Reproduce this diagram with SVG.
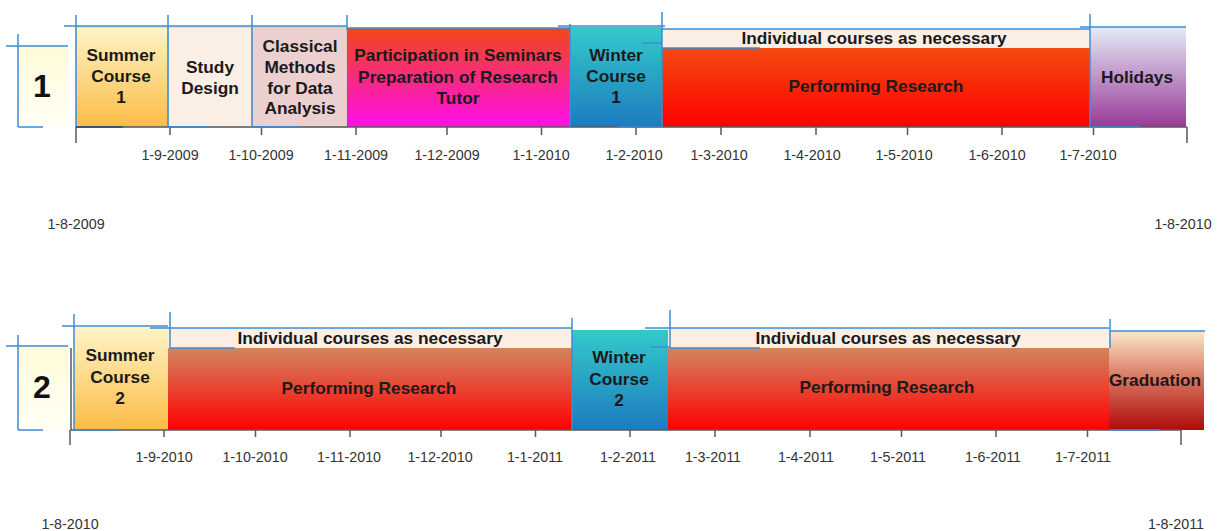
<svg xmlns="http://www.w3.org/2000/svg" width="1217" height="531" viewBox="0 0 1217 531">
<defs>
<linearGradient id="gNum" x1="0" y1="0" x2="0" y2="1"><stop offset="0" stop-color="#fffbd8"/><stop offset="1" stop-color="#fffff6"/></linearGradient>
<linearGradient id="gSummer" x1="0" y1="0" x2="0" y2="1"><stop offset="0" stop-color="#fff4c6"/><stop offset="1" stop-color="#fcbc46"/></linearGradient>
<linearGradient id="gPart" x1="0" y1="0" x2="0" y2="1"><stop offset="0" stop-color="#f14716"/><stop offset="1" stop-color="#ff0eea"/></linearGradient>
<linearGradient id="gWinter" x1="0" y1="0" x2="0" y2="1"><stop offset="0" stop-color="#33caca"/><stop offset="1" stop-color="#1d7bc0"/></linearGradient>
<linearGradient id="gPerf1" x1="0" y1="0" x2="0" y2="1"><stop offset="0" stop-color="#f34a10"/><stop offset="1" stop-color="#ff0000"/></linearGradient>
<linearGradient id="gPerf2" x1="0" y1="0" x2="0" y2="1"><stop offset="0" stop-color="#d28560"/><stop offset="1" stop-color="#ff0000"/></linearGradient>
<linearGradient id="gHol" x1="0" y1="0" x2="0" y2="1"><stop offset="0" stop-color="#e4ecf8"/><stop offset="1" stop-color="#983a96"/></linearGradient>
<linearGradient id="gGrad" x1="0" y1="0" x2="0" y2="1"><stop offset="0" stop-color="#fbeac8"/><stop offset="0.5" stop-color="#d6705c"/><stop offset="1" stop-color="#ae0b0b"/></linearGradient>
</defs>
<style>
.lbl{font-family:"Liberation Sans",Arial,sans-serif;font-weight:bold;font-size:17.3px;fill:#1a1a1a;text-anchor:middle;dominant-baseline:central}
.num{font-family:"Liberation Sans",Arial,sans-serif;font-weight:bold;font-size:32px;fill:#111;text-anchor:middle;dominant-baseline:central}
.tick{font-family:"Liberation Sans",Arial,sans-serif;font-size:14.3px;fill:#333;text-anchor:middle}
.ax{stroke:#5a5a5a;stroke-width:1.5;fill:none}
.bl{stroke:#3b8fd3;stroke-width:1.5;fill:none}
.box{stroke:#c8c0c0;stroke-width:0.8}
</style>

<!-- Row 1 -->
<g id="num1"><rect x="18" y="46" width="50" height="81" fill="url(#gNum)"/><text class="num" x="42" y="86">1</text></g>
<g id="summer1"><rect class="box" x="76" y="27" width="92" height="100" fill="url(#gSummer)"/><text class="lbl" x="121" y="55">Summer</text><text class="lbl" x="121" y="76">Course</text><text class="lbl" x="121" y="97">1</text></g>
<g id="study1"><rect class="box" x="168" y="27" width="84" height="100" fill="#fbeee4"/><text class="lbl" x="210" y="67">Study</text><text class="lbl" x="210" y="88">Design</text></g>
<g id="classical1"><rect class="box" x="252" y="27" width="95" height="100" fill="#ecd0d0"/><text class="lbl" x="300" y="46">Classical</text><text class="lbl" x="300" y="67">Methods</text><text class="lbl" x="300" y="88">for Data</text><text class="lbl" x="300" y="108">Analysis</text></g>
<g id="participation1"><rect x="347" y="28" width="223" height="99" fill="url(#gPart)"/><text class="lbl" x="458" y="55">Participation in Seminars</text><text class="lbl" x="458" y="77">Preparation of Research</text><text class="lbl" x="458" y="98">Tutor</text></g>
<g id="winter1"><rect x="570" y="27" width="92" height="100" fill="url(#gWinter)"/><text class="lbl" x="616" y="55">Winter</text><text class="lbl" x="616" y="76">Course</text><text class="lbl" x="616" y="97">1</text></g>
<g id="individual1"><rect x="662" y="29" width="428" height="19" fill="#fbeee4"/><text class="lbl" x="874" y="38">Individual courses as necessary</text></g>
<g id="research1"><rect x="662" y="48" width="428" height="79" fill="url(#gPerf1)"/><text class="lbl" x="876" y="86">Performing Research</text></g>
<g id="holidays1"><rect x="1090" y="27" width="96" height="100" fill="url(#gHol)"/><text class="lbl" x="1137" y="77">Holidays</text></g>

<!-- Row 2 -->
<g id="num2"><rect x="18" y="346" width="50" height="84" fill="url(#gNum)"/><text class="num" x="42" y="387">2</text></g>
<g id="summer2"><rect x="74" y="327" width="94" height="103" fill="url(#gSummer)"/><text class="lbl" x="120" y="355">Summer</text><text class="lbl" x="120" y="377">Course</text><text class="lbl" x="120" y="398">2</text></g>
<g id="individual2a"><rect x="168" y="328" width="404" height="20" fill="#fbeee4"/><text class="lbl" x="370" y="338">Individual courses as necessary</text></g>
<g id="research2a"><rect x="168" y="348" width="404" height="82" fill="url(#gPerf2)"/><text class="lbl" x="369" y="388">Performing Research</text></g>
<g id="winter2"><rect x="572" y="330" width="96" height="100" fill="url(#gWinter)"/><text class="lbl" x="619" y="357">Winter</text><text class="lbl" x="619" y="379">Course</text><text class="lbl" x="619" y="400">2</text></g>
<g id="individual2b"><rect x="668" y="328" width="441" height="20" fill="#fbeee4"/><text class="lbl" x="888" y="338">Individual courses as necessary</text></g>
<g id="research2b"><rect x="668" y="348" width="441" height="82" fill="url(#gPerf2)"/><text class="lbl" x="887" y="387">Performing Research</text></g>
<g id="graduation2"><rect x="1109" y="331" width="95" height="99" fill="url(#gGrad)"/><text class="lbl" x="1155" y="380">Graduation</text></g>

<!-- connectors: axes and guide lines -->
<g id="connectors">
<g id="axis1">
<path class="ax" d="M76 127H1187M76 127V143M1187 127V143M170 127V135M261.5 127V135M356 127V135M447 127V135M541.5 127V135M636 127V135M721 127V135M816 127V135M907.5 127V135M1002 127V135M1093.5 127V135"/>
</g>
<g id="axis2">
<path class="ax" d="M71 348V430H1181M70 430V445M1181 430V445M164 430V437M255.5 430V437M350 430V437M441 430V437M535.5 430V437M630 430V437M715 430V437M810 430V437M901.5 430V437M996 430V437M1087.5 430V437"/>
</g>
<g id="guides1">
<path class="bl" d="M6 46H68M18 34V127M18 127H43M76 15V127M64 26H347M168 15V127M252 15V127M347 15V30M168 127H211M252 127H300M347 28H570M570 24V127M558 26H665M662 12V127M642 43H662M618 127H662M662 29H1090M662 48H760M1090 14V127M1080 27H1186M1092 127H1140"/>
<path d="M76 127H123" stroke="#1f4e79" stroke-width="1.5"/>
</g>
<g id="guides2">
<path class="bl" d="M6 346H68M18 335V430M18 430H43M74 314V430M62 326H168M170 312V348M150 328H572M170 348H235M74 430H120M572 318V430M645 328H670M670 310V348M650 347H670M670 328H1109M670 348H760M1110 319V348M1110 331H1205M1110 430H1160"/>
</g>
</g>

<!-- tick labels -->
<g id="labels1">
<text class="tick" x="170" y="160">1-9-2009</text>
<text class="tick" x="261" y="160">1-10-2009</text>
<text class="tick" x="356" y="160">1-11-2009</text>
<text class="tick" x="447" y="160">1-12-2009</text>
<text class="tick" x="541" y="160">1-1-2010</text>
<text class="tick" x="634" y="160">1-2-2010</text>
<text class="tick" x="719" y="160">1-3-2010</text>
<text class="tick" x="812" y="160">1-4-2010</text>
<text class="tick" x="904" y="160">1-5-2010</text>
<text class="tick" x="997" y="160">1-6-2010</text>
<text class="tick" x="1088" y="160">1-7-2010</text>
<text class="tick" x="76" y="229">1-8-2009</text>
<text class="tick" x="1183" y="229">1-8-2010</text>
</g>
<g id="labels2">
<text class="tick" x="164" y="462">1-9-2010</text>
<text class="tick" x="255" y="462">1-10-2010</text>
<text class="tick" x="349" y="462">1-11-2010</text>
<text class="tick" x="440" y="462">1-12-2010</text>
<text class="tick" x="535" y="462">1-1-2011</text>
<text class="tick" x="628" y="462">1-2-2011</text>
<text class="tick" x="713" y="462">1-3-2011</text>
<text class="tick" x="806" y="462">1-4-2011</text>
<text class="tick" x="898" y="462">1-5-2011</text>
<text class="tick" x="993" y="462">1-6-2011</text>
<text class="tick" x="1083" y="462">1-7-2011</text>
<text class="tick" x="70" y="529">1-8-2010</text>
<text class="tick" x="1176" y="529">1-8-2011</text>
</g>
</svg>
